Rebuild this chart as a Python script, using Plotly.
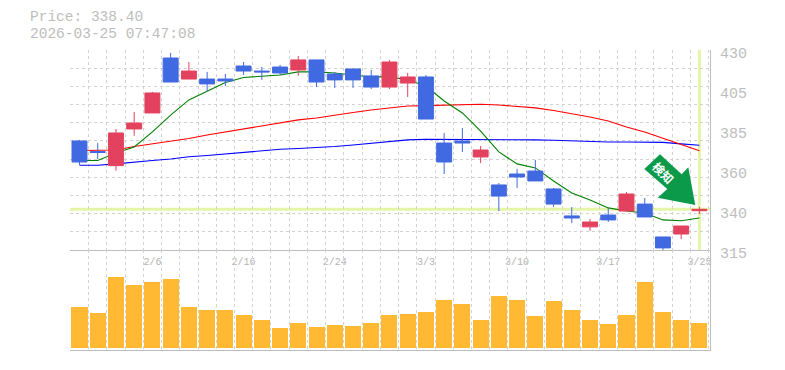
import plotly.graph_objects as go

dates = ["2/2","2/3","2/4","2/5","2/6","2/9","2/10","2/12","2/13","2/16","2/17","2/18","2/19","2/20","2/24","2/25","2/26","2/27","3/2","3/3","3/4","3/5","3/6","3/9","3/10","3/11","3/12","3/13","3/16","3/17","3/18","3/19","3/23","3/24","3/25"]
date_ticks = ["2/6","2/16","2/24","3/3","3/10","3/17","3/25"]

open_ = [377.7,371.6,363.5,384.6,393.8,425.4,413.3,413.3,413.3,420.8,417.9,420.2,418.5,424.3,416.2,419.1,415.1,408.7,411.0,414.5,376.5,377.7,368.5,352.4,358.7,360.4,350.1,334.6,328.3,335.1,337.4,341.4,322.5,324.2,337.6]
high = [378.3,376.5,384.6,394.4,405.9,428.3,423.1,417.4,416.2,423.1,420.2,421.4,426.6,424.3,417.4,419.1,418.5,424.3,416.8,415.6,382.3,385.2,374.8,353.5,361.6,366.8,350.7,339.7,332.8,339.2,348.4,344.9,322.5,328.8,339.7]
low = [363.9,367.3,360.6,380.7,393.8,411.6,413.3,406.4,409.3,415.6,412.8,415.6,415.1,408.7,408.2,408.2,407.6,407.6,403.0,390.3,358.7,371.4,365.0,337.4,350.7,354.7,339.7,330.5,326.0,331.1,337.4,334.0,315.0,321.3,335.7]
close = [365.6,371.1,382.3,388.0,405.3,411.6,417.9,410.5,412.2,417.9,417.4,416.8,424.3,411.6,412.8,412.8,408.7,423.1,414.5,390.3,365.6,376.5,372.5,346.0,357.0,354.7,341.4,333.4,331.1,332.3,347.2,334.0,316.2,328.8,338.4]

ma_short = [366.5,366.5,370.8,374.2,382.9,392.6,401.3,406.4,411.3,414.2,415.0,415.6,417.4,417.4,416.8,415.6,414.5,414.7,412.8,409.3,400.7,393.8,383.4,371.4,364.5,362.2,354.7,347.8,343.8,339.2,337.4,336.3,332.3,331.8,333.4]
ma_mid = [372.2,372.2,372.5,374.5,376.0,377.7,379.1,381.1,382.9,384.6,386.3,388.3,389.8,390.9,392.6,394.1,395.5,396.7,397.8,398.0,398.2,398.4,398.8,398.4,397.5,396.7,395.2,393.5,391.5,389.2,385.7,382.9,379.4,375.7,372.1]
ma_long = [363.7,363.7,364.5,365.6,366.5,367.3,368.6,369.3,370.2,371.1,372.3,372.9,373.4,373.9,374.5,375.4,376.5,377.4,378.3,378.7,378.7,378.7,378.7,378.7,378.4,378.3,378.1,377.7,377.3,377.1,377.1,377.1,376.9,376.0,375.2]

volume = [41,35,71,63,66,69,41,38,38,33,28,20,25,21,23,22,25,33,34,36,48,44,28,52,48,32,47,38,28,24,33,66,36,28,25]

price_tick_vals = [430,407,384,361,338,315]
price_tick_text = ["430","405","385","360","340","315"]
last_price = 338.40
timestamp = "2026-03-25 07:47:08"
stamp_text = "検知"

GREY = "#bdbdbd"
GRID = "#d2d2d2"
PALE = "#e4f5a8"
MONO = "Liberation Mono, DejaVu Sans Mono, monospace"
idx = list(range(len(dates)))
xrange = [-0.52, 34.58]
yrange = [315, 430]
PAGE = 8
W, H = 785 - PAGE, 370 - PAGE
L, R, T, B = 70, 710, 50, 350

def px(x, y):
    return (x - L) / (R - L), (B - y) / (B - T)

fig = go.Figure()
for vals, col in ((ma_long, "#0000ff"), (ma_mid, "#ff0000"), (ma_short, "#008000")):
    fig.add_trace(go.Scatter(x=idx, y=vals, mode="lines", line=dict(color=col, width=1.1),
                             xaxis="x", yaxis="y", showlegend=False))
fig.add_trace(go.Candlestick(x=idx, open=open_, high=high, low=low, close=close,
    increasing=dict(line=dict(color="#e3425f", width=1), fillcolor="#e3425f"),
    decreasing=dict(line=dict(color="#4169e1", width=1), fillcolor="#4169e1"),
    whiskerwidth=0, xaxis="x3", yaxis="y3", showlegend=False))
fig.add_trace(go.Bar(x=idx, y=volume, width=0.88, marker=dict(color="#ffb933", line_width=0),
                     xaxis="x2", yaxis="y2", showlegend=False))

x_minor = dict(tickmode="array", tickvals=[i - 0.5 for i in range(len(dates) + 1)],
               showgrid=True, gridcolor=GRID, griddash="3px,3px", gridwidth=1, ticklen=0)
y_minor = dict(tickmode="array", tickvals=[430 - i * 115 / 11 for i in range(12)],
               showgrid=True, gridcolor=GRID, griddash="3px,3px", gridwidth=1, ticklen=0)
v_minor = dict(x_minor)

arrow_pts = [(660, 154.3), (644.3, 169), (667.3, 189), (657.7, 197.7), (695.3, 205), (688.3, 167.3), (681.7, 174.3)]
path = "M " + " L ".join("%.4f %.4f" % px(*p) for p in arrow_pts) + " Z"

shapes = [
    dict(type="line", xref="paper", yref="y", x0=0, x1=1, y0=last_price, y1=last_price,
         line=dict(color=PALE, width=3), layer="below"),
    dict(type="line", xref="x", yref="y", x0=34, x1=34, y0=yrange[0], y1=yrange[1],
         line=dict(color=PALE, width=3), layer="below"),
    dict(type="path", xref="paper", yref="paper", path=path, fillcolor="#0b9a4a", line=dict(width=0)),
]

sx, sy = px(27.5, 17)
_, sy2 = px(27.5, 33.5)
tx, ty = px(664, 172)
annotations = [
    dict(text="Price: %.2f" % last_price, xref="paper", yref="paper", x=sx, y=sy, xanchor="left", yanchor="middle",
         showarrow=False, font=dict(family=MONO, size=14.5, color=GREY)),
    dict(text=timestamp, xref="paper", yref="paper", x=sx, y=sy2, xanchor="left", yanchor="middle",
         showarrow=False, font=dict(family=MONO, size=14.5, color=GREY)),
    dict(text="<b>%s</b>" % stamp_text, xref="paper", yref="paper", x=tx, y=ty, xanchor="center", yanchor="middle",
         textangle=45, showarrow=False, font=dict(family="Noto Sans CJK JP", size=12, color="white")),
]

fig.update_layout(
    width=W, height=H, autosize=False, margin=dict(l=L - PAGE, r=W - (R - PAGE), t=T - PAGE, b=H - (B - PAGE), autoexpand=False),
    paper_bgcolor="white", plot_bgcolor="white", showlegend=False,
    boxmode="overlay", boxgap=0.18, boxgroupgap=0, bargap=0,
    shapes=shapes, annotations=annotations,
    xaxis=dict(domain=[0, 1], range=xrange, anchor="y", tickmode="array", automargin=False,
               tickvals=[dates.index(d) for d in date_ticks], ticktext=date_ticks,
               tickfont=dict(family=MONO, size=10, color="#b4b4b4"), ticks="outside", ticklen=2, tickcolor="rgba(0,0,0,0)",
               showgrid=False, minor=x_minor, showline=True, linecolor=GREY, linewidth=1, zeroline=False,
               rangeslider=dict(visible=False)),
    yaxis=dict(domain=[1 / 3, 1], range=yrange, anchor="x", side="right", tickmode="array", automargin=False,
               tickvals=price_tick_vals, ticktext=price_tick_text, ticklabelshift=3,
               tickfont=dict(family=MONO, size=15, color=GREY), ticks="outside", ticklen=6, tickcolor="rgba(0,0,0,0)",
               showgrid=False, minor=y_minor, showline=True, linecolor=GREY, linewidth=1, zeroline=False),
    xaxis2=dict(domain=[0, 1], range=xrange, anchor="y2", showticklabels=False, ticks="", showgrid=False, automargin=False,
                minor=v_minor, showline=True, linecolor=GREY, linewidth=1, zeroline=False),
    yaxis2=dict(domain=[0, 1 / 3], range=[-2, 98], anchor="x2", side="right", showticklabels=False, ticks="", automargin=False,
                showgrid=False, showline=True, linecolor=GREY, linewidth=1, zeroline=False),
    xaxis3=dict(overlaying="x", range=xrange, anchor="y3", visible=False, rangeslider=dict(visible=False)),
    yaxis3=dict(overlaying="y", range=yrange, anchor="x3", visible=False),
)
fig.write_html("out.html")
